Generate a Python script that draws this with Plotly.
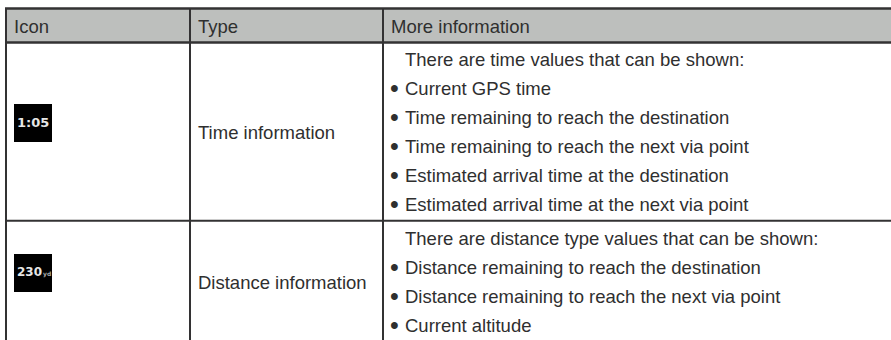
import plotly.graph_objects as go

W, H = 891, 340
headers = ["Icon", "Type", "More information"]
icon_labels = ["1:05", "230"]
icon_units = ["", "yd"]
types = ["Time information", "Distance information"]
time_intro = "There are time values that can be shown:"
time_items = ["Current GPS time", "Time remaining to reach the destination",
              "Time remaining to reach the next via point",
              "Estimated arrival time at the destination",
              "Estimated arrival time at the next via point"]
dist_intro = "There are distance type values that can be shown:"
dist_items = ["Distance remaining to reach the destination",
              "Distance remaining to reach the next via point",
              "Current altitude"]

col_x = [6, 190, 383]
text_x = [14, 198, 391]
head_top, head_bot, row_split = 8.5, 42.5, 220.7
FONT = "Liberation Sans"
INK = "#2f2f2f"
LINE = "#333233"
FS = 18.5

shapes = [dict(type="rect", x0=6, x1=W, y0=head_top, y1=head_bot, fillcolor="#bdbfbd", line_width=0, layer="below")]
for y, w in [(head_top, 2.4), (head_bot, 2.4), (row_split, 2)]:
    shapes.append(dict(type="line", x0=5, x1=W, y0=y, y1=y, line=dict(color=LINE, width=w)))
for x in col_x:
    shapes.append(dict(type="line", x0=x, x1=x, y0=8, y1=H, line=dict(color=LINE, width=2)))
for top in (104, 254):
    shapes.append(dict(type="rect", x0=14, x1=52, y0=top, y1=top + 38, fillcolor="#000000", line_width=0))

ann = []
def t(x, y, s, size=FS, color=INK, family=FONT, anchor="left"):
    ann.append(dict(x=x, y=y, text=s, xref="x", yref="y", showarrow=False, xanchor=anchor, yanchor="middle",
                    font=dict(family=family, size=size, color=color), borderpad=0, borderwidth=0))

for x, s in zip(text_x, headers):
    t(x, 26, s)
t(198, 132, types[0])
t(198, 282, types[1])
t(405, 59, time_intro)
for y, s in zip([88, 117, 146, 175, 204], time_items):
    t(390, y, "•", size=25)
    t(405, y, s)
t(405, 238, dist_intro)
for y, s in zip([267, 296, 325], dist_items):
    t(390, y, "•", size=25)
    t(405, y, s)
t(17, 122, "<b>" + icon_labels[0] + "</b>", size=13, color="#e6e6e6", family="DejaVu Sans")
t(17, 272, "<b>" + icon_labels[1] + "</b>", size=12, color="#e6e6e6", family="DejaVu Sans")
t(43, 274, "<b>" + icon_units[1] + "</b>", size=6, color="#aaaaaa", family="DejaVu Sans")

fig = go.Figure()
fig.update_layout(width=W, height=H, margin=dict(l=0, r=0, t=0, b=0), paper_bgcolor="white", plot_bgcolor="white",
                  showlegend=False, shapes=shapes, annotations=ann,
                  xaxis=dict(range=[0, W], visible=False, fixedrange=True),
                  yaxis=dict(range=[H, 0], visible=False, fixedrange=True))
fig.write_html("out.html", config=dict(displayModeBar=False),
               post_script="document.body.style.margin='0';document.documentElement.style.overflow='hidden';")
